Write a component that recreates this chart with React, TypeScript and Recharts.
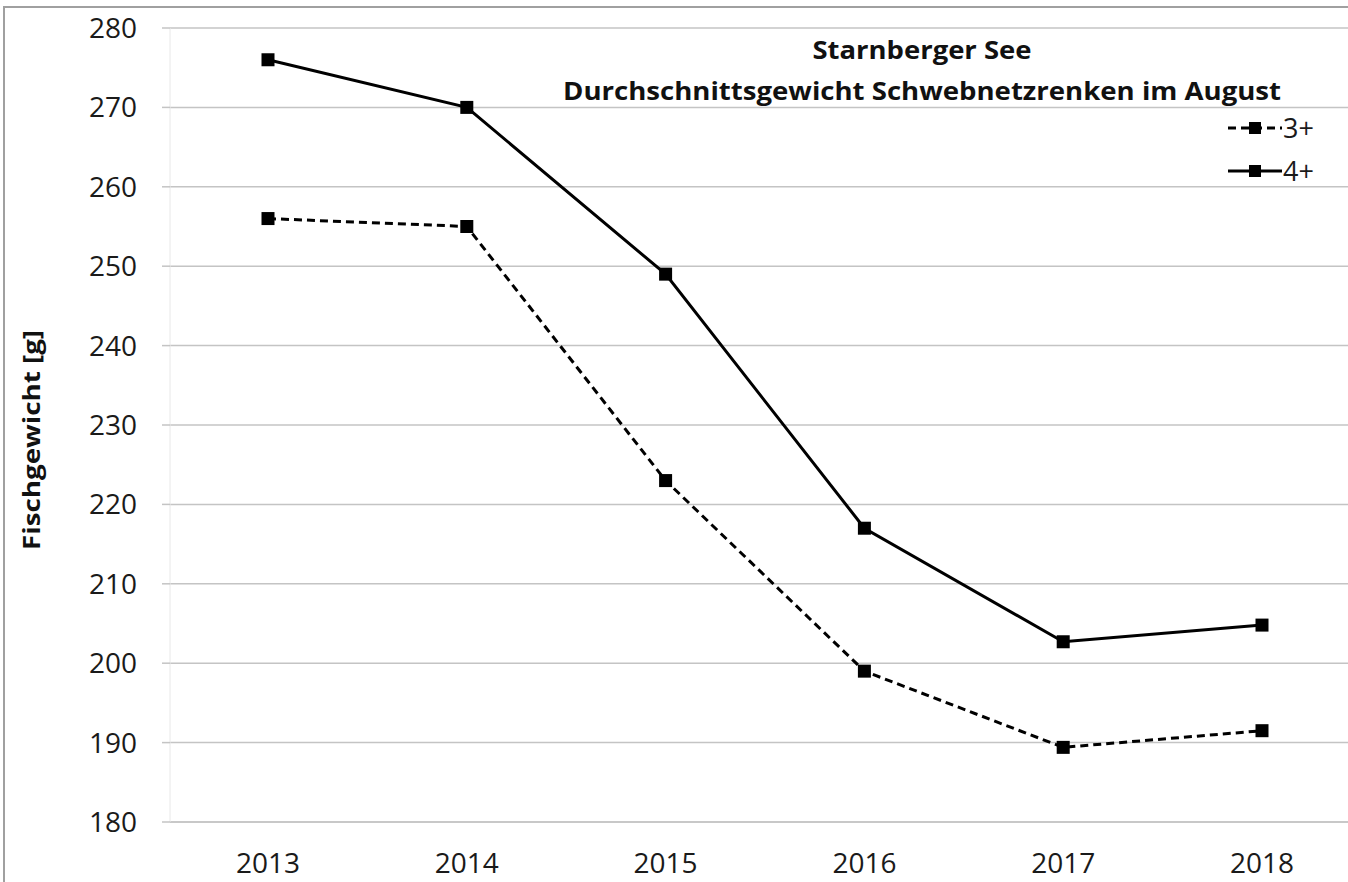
import { CartesianGrid, Legend, Line, LineChart, XAxis, YAxis } from "recharts";

const years = ["2013", "2014", "2015", "2016", "2017", "2018"];
const age3plus = [256, 255, 223, 199, 189.4, 191.5];
const age4plus = [276, 270, 249, 217, 202.7, 204.8];
const yTicks = [180, 190, 200, 210, 220, 230, 240, 250, 260, 270, 280];

const FONT = "'Open Sans', sans-serif";
const GRID = "#c4c4c4";

const series = [
  { key: "a3", name: "3+", dash: "8 5" },
  { key: "a4", name: "4+", dash: undefined as string | undefined },
];

const data = years.map((year, i) => ({ year, a3: age3plus[i], a4: age4plus[i] }));

// square black markers like the spreadsheet original
const squareDot = (props: any) => {
  const { cx, cy, index, dataKey } = props;
  if (cx == null || cy == null) return <g key={`${dataKey}-${index}`} />;
  return <rect key={`${dataKey}-${index}`} x={cx - 6.5} y={cy - 6.5} width={13} height={13} fill="#000" />;
};

const renderLegend = () => (
  <div style={{ fontFamily: FONT }}>
    {series.map((s) => (
      <div key={s.key} style={{ display: "flex", alignItems: "center", height: 43 }}>
        <svg width={54} height={16}>
          <line x1={0} x2={54} y1={8} y2={8} stroke="#000" strokeWidth={3} strokeDasharray={s.dash} />
          <rect x={21} y={2} width={12} height={12} fill="#000" />
        </svg>
        <span style={{ fontSize: 27, lineHeight: 1, color: "#1a1a1a", marginLeft: 1 }}>{s.name}</span>
      </div>
    ))}
  </div>
);

const axisTitle = () => (
  <text
    transform="translate(40,440) rotate(-90)"
    textAnchor="middle"
    fontFamily={FONT}
    fontWeight={700}
    fontSize={23}
    fill="#111"
    textLength={220}
    lengthAdjust="spacingAndGlyphs"
  >
    Fischgewicht [g]
  </text>
);

export default function App() {
  return (
    <div
      style={{
        position: "absolute",
        left: 0,
        top: 0,
        width: 1348,
        height: 882,
        overflow: "hidden",
        background: "#fff",
      }}
    >
      <div
        style={{
          position: "absolute",
          left: 3,
          top: 6,
          width: 1400,
          height: 900,
          borderTop: "2px solid #a0a0a0",
          borderLeft: "2px solid #a0a0a0",
        }}
      />
      <LineChart
        width={1348}
        height={882}
        data={data}
        margin={{ top: 28, right: 0, bottom: 0, left: 0 }}
        style={{ position: "absolute", left: 0, top: 0 }}
      >
        <CartesianGrid vertical={false} stroke={GRID} strokeWidth={1.5} />
        <XAxis
          dataKey="year"
          height={60}
          padding={{ left: 98, right: 86 }}
          tickLine={false}
          tickSize={0}
          tickMargin={31}
          axisLine={{ stroke: GRID, strokeWidth: 1.5 }}
          tick={{ fill: "#1a1a1a", fontSize: 28, fontFamily: FONT }}
        />
        <YAxis
          width={170}
          domain={[180, 280]}
          ticks={yTicks}
          interval={0}
          tickSize={8}
          tickMargin={25}
          tickLine={{ stroke: GRID, strokeWidth: 1.5 }}
          axisLine={{ stroke: "#e8e8e8", strokeWidth: 1 }}
          tick={{ fill: "#1a1a1a", fontSize: 28, fontFamily: FONT }}
          label={{ content: axisTitle }}
        />
        <Legend
          layout="vertical"
          align="center"
          verticalAlign="middle"
          content={renderLegend}
          wrapperStyle={{ left: 1228, top: 106, width: 115 }}
        />
        {series.map((s) => (
          <Line
            key={s.key}
            dataKey={s.key}
            name={s.name}
            stroke="#000"
            strokeWidth={3}
            strokeDasharray={s.dash}
            dot={squareDot}
            activeDot={false}
            isAnimationActive={false}
          />
        ))}
      </LineChart>
      <svg
        width={1348}
        height={882}
        style={{ position: "absolute", left: 0, top: 0, pointerEvents: "none" }}
      >
        <text
          x={922}
          y={59}
          textAnchor="middle"
          fontFamily={FONT}
          fontWeight={700}
          fontSize={25}
          fill="#111"
          textLength={219}
          lengthAdjust="spacingAndGlyphs"
        >
          Starnberger See
        </text>
        <text
          x={922}
          y={100}
          textAnchor="middle"
          fontFamily={FONT}
          fontWeight={700}
          fontSize={25}
          fill="#111"
          textLength={718}
          lengthAdjust="spacingAndGlyphs"
        >
          Durchschnittsgewicht Schwebnetzrenken im August
        </text>
      </svg>
    </div>
  );
}
